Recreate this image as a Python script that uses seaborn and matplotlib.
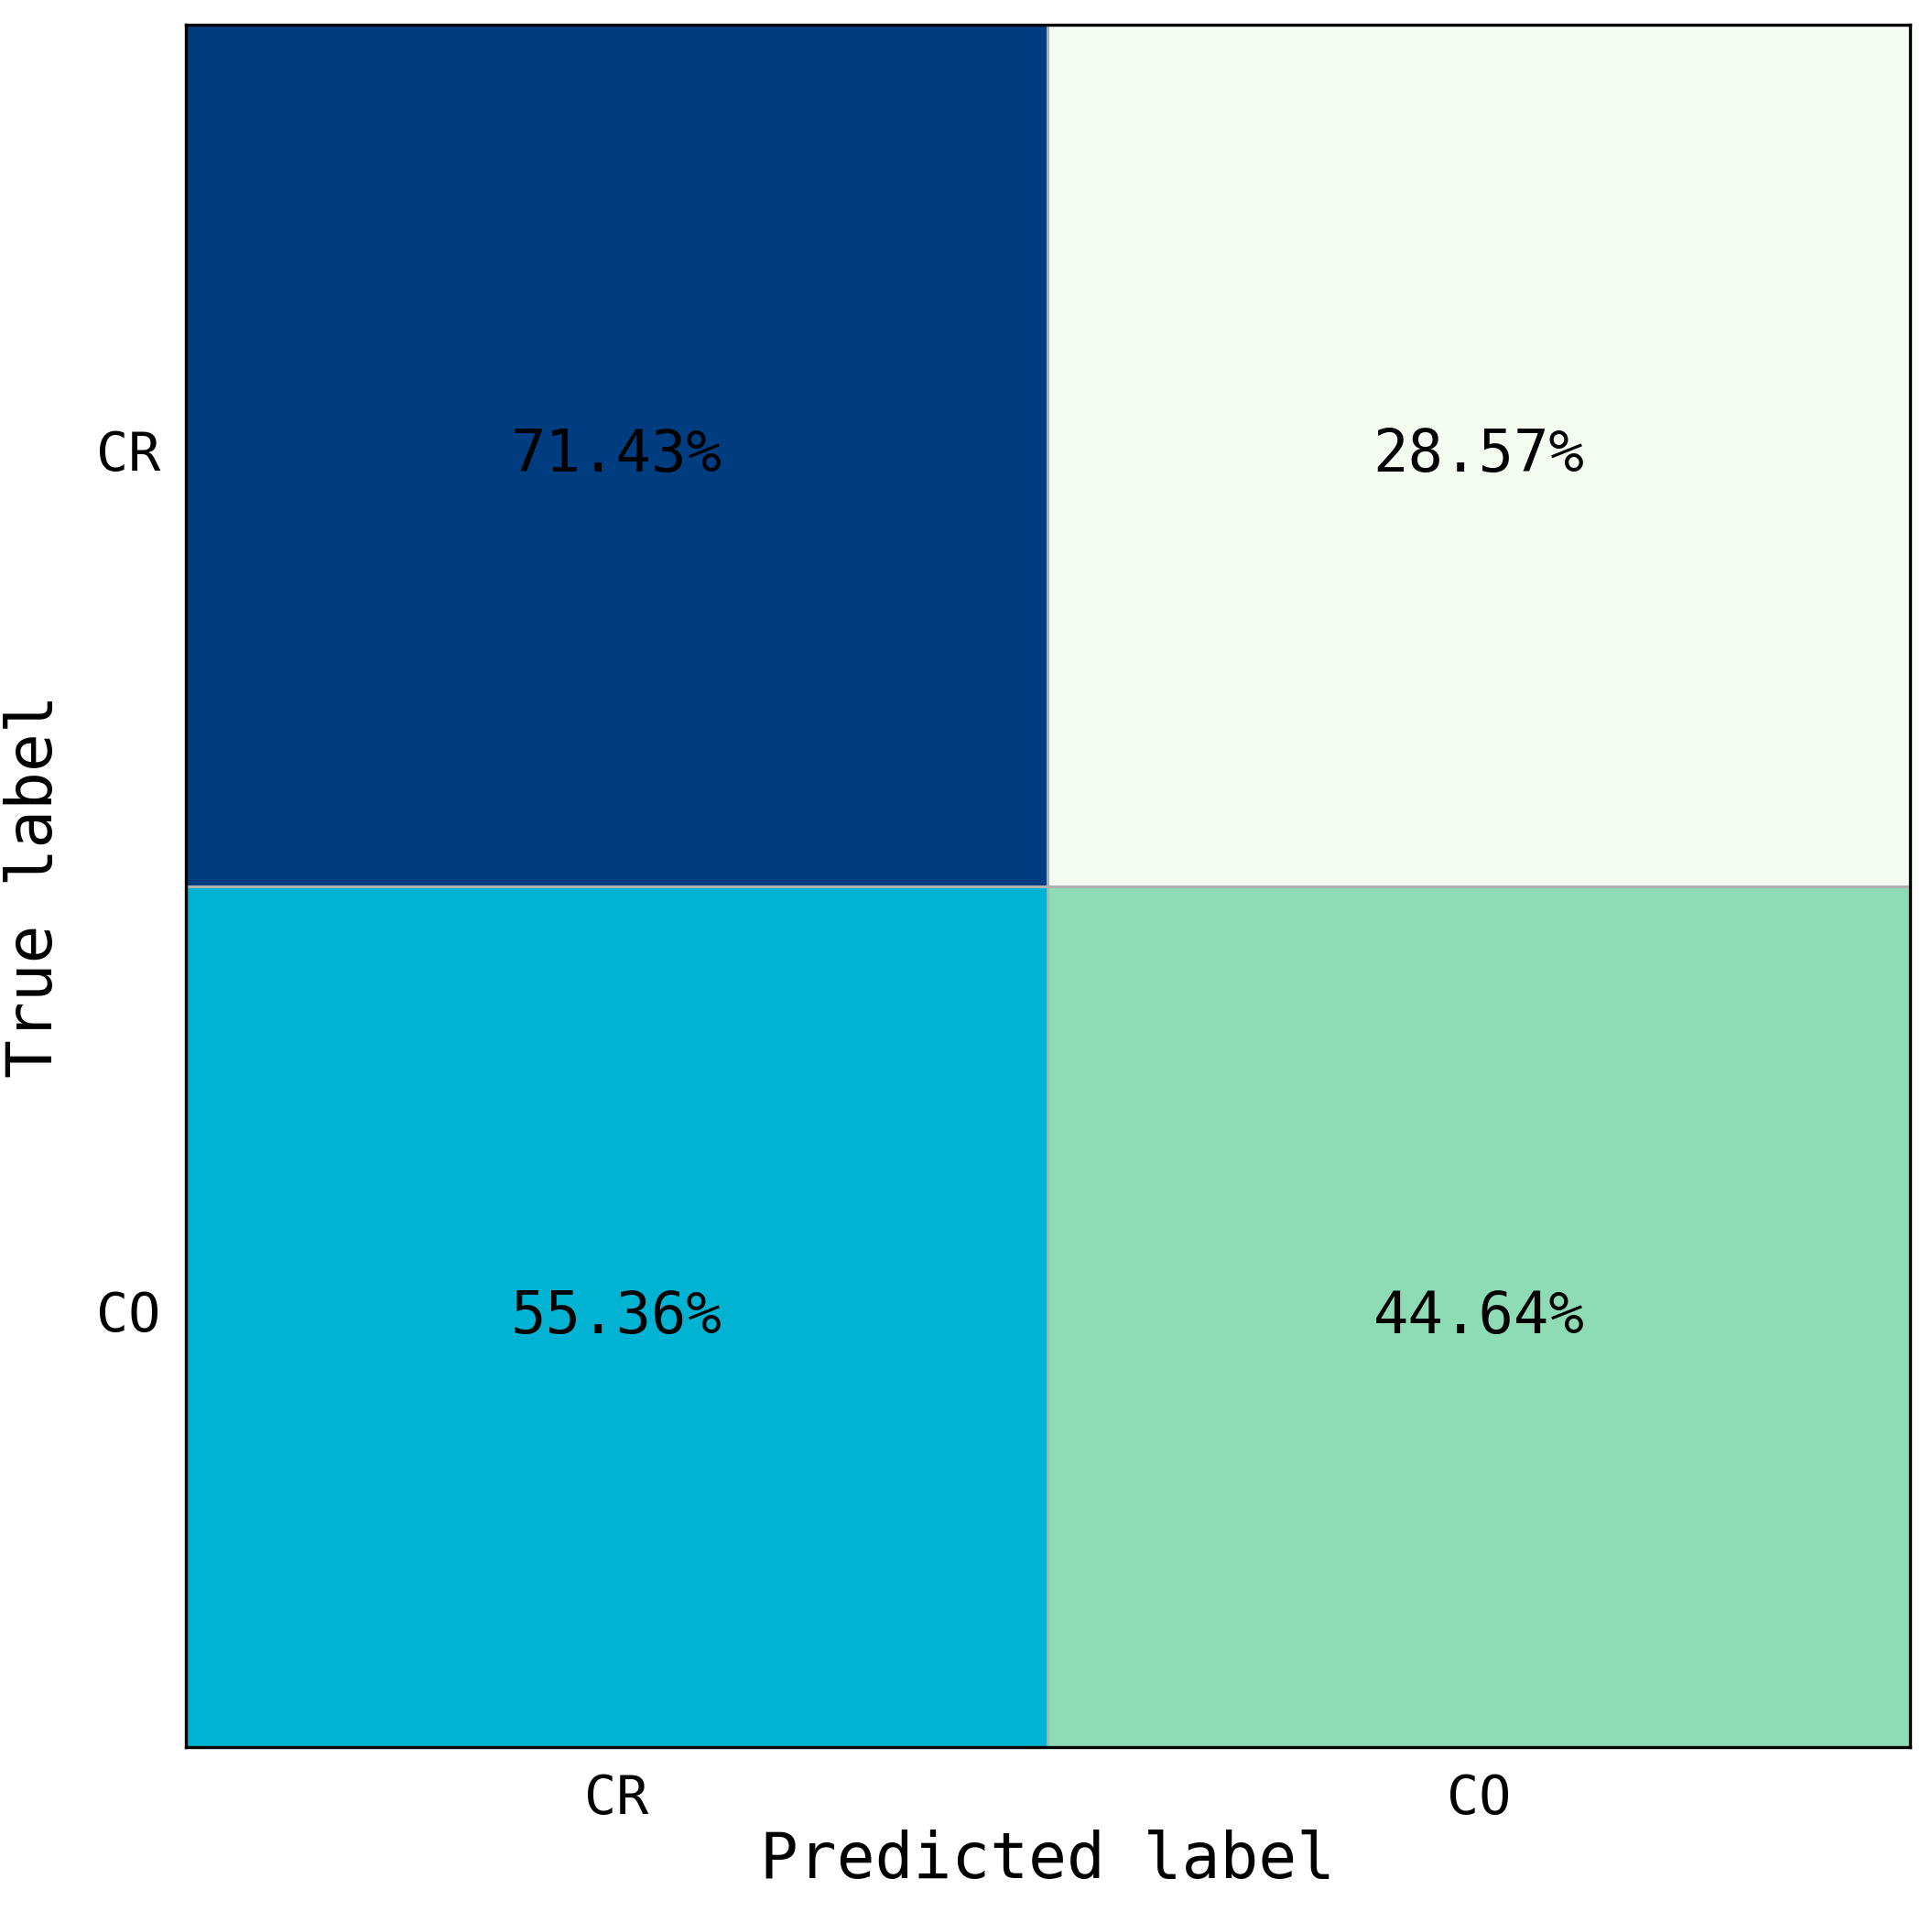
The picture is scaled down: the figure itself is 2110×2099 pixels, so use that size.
import numpy as np
import matplotlib
matplotlib.use("Agg")
import matplotlib.pyplot as plt
import seaborn as sns
from matplotlib.colors import LinearSegmentedColormap

classes = ["CR", "CO"]
cm_percent = np.array([[71.43, 28.57],
                       [55.36, 44.64]])

sns.set_style("white")
plt.rcParams['font.family'] = ['DejaVu Sans Mono', 'DejaVu Sans']
plt.rcParams['text.color'] = 'black'
plt.rcParams['axes.labelcolor'] = 'black'
plt.rcParams['xtick.color'] = 'black'
plt.rcParams['ytick.color'] = 'black'

cmap = LinearSegmentedColormap.from_list(
    "cm", [(0, "#f4fbf0"), (0.375, "#8ddcb5"), (0.625, "#00b4d4"), (1, "#003c80")])

fig = plt.figure(figsize=(10.55, 10.495), dpi=200)
ax = fig.add_axes([0.096, 0.091, 0.8925, 0.896])
sns.heatmap(cm_percent, ax=ax, cmap=cmap, cbar=False,
            annot=np.vectorize(lambda v: f"{v:.2f}%")(cm_percent), fmt="",
            annot_kws={"fontsize": 23, "color": "black"},
            linewidths=1, linecolor="#b0b0b0",
            xticklabels=classes, yticklabels=classes)
for s in ax.spines.values():
    s.set_visible(True)
    s.set_color("black")
    s.set_linewidth(1.2)
ax.tick_params(axis='both', labelsize=21, length=0, pad=10)
ax.set_yticklabels(classes, rotation=0)
ax.set_xlabel("Predicted label", fontsize=25, labelpad=2)
ax.set_ylabel("True label", fontsize=25, labelpad=2)
ax.yaxis.set_label_coords(-0.07, 0.5)
fig.savefig("out.png", dpi=200)
